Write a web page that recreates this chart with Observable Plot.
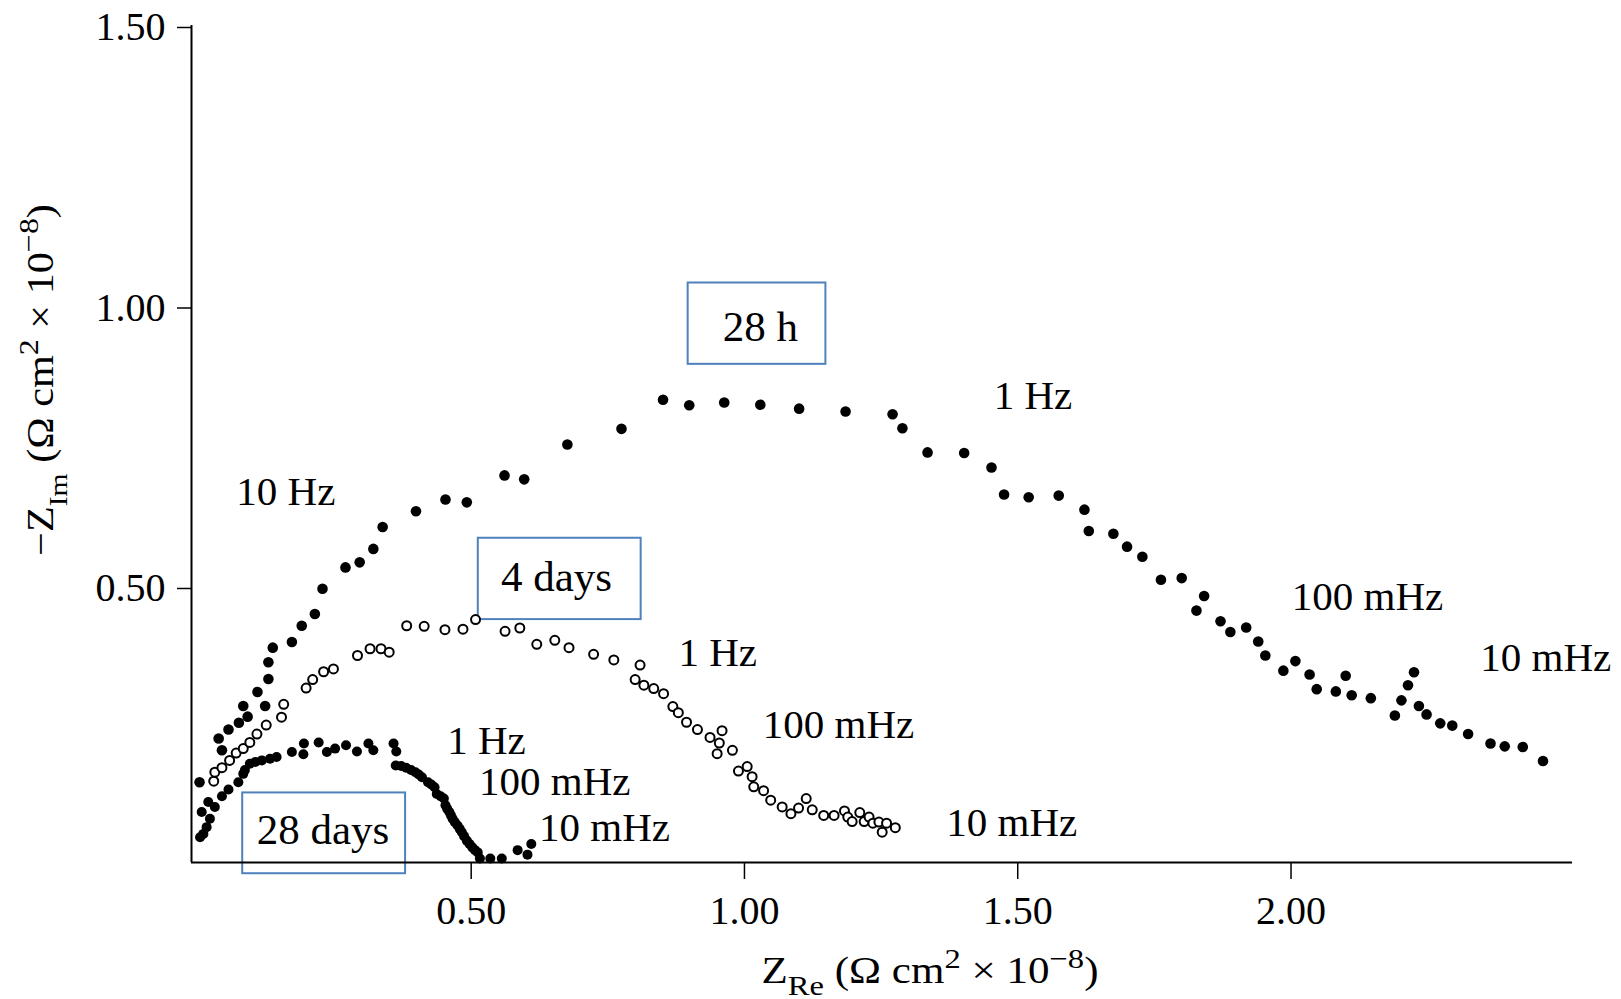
<!DOCTYPE html>
<html>
<head>
<meta charset="utf-8">
<script src="https://cdn.jsdelivr.net/npm/d3@7"></script>
<script src="https://cdn.jsdelivr.net/npm/@observablehq/plot@0.6"></script>
<style>
  html, body { margin: 0; padding: 0; background: #fff; overflow: hidden; }
</style>
</head>
<body>
<div id="chart"></div>
<script>
// ---- axis ticks ----
const xTicks = [0.5, 1.0, 1.5, 2.0];
const yTicks = [0.5, 1.0, 1.5];

// ---- series: [Z_Re, -Z_Im] (Ω cm² × 10⁻⁸) ----
const series28h = [
  [0.003,0.151],[0.044,0.208],[0.038,0.229],[0.056,0.245],[0.075,0.257],[0.091,0.268],[0.083,0.287],[0.123,0.287],
  [0.109,0.312],[0.129,0.335],[0.129,0.365],[0.137,0.391],[0.172,0.401],[0.190,0.430],[0.214,0.451],[0.228,0.496],
  [0.270,0.534],[0.296,0.543],[0.321,0.567],[0.338,0.606],[0.399,0.634],[0.453,0.655],[0.492,0.650],[0.561,0.698],
  [0.597,0.691],[0.676,0.753],[0.775,0.781],[0.851,0.833],[0.899,0.823],[0.963,0.828],[1.029,0.824],[1.100,0.817],
  [1.185,0.812],[1.271,0.807],[1.289,0.782],[1.335,0.739],[1.402,0.738],[1.452,0.712],[1.475,0.664],[1.520,0.659],
  [1.575,0.662],[1.622,0.637],[1.630,0.599],[1.675,0.594],[1.700,0.571],[1.728,0.553],[1.762,0.512],[1.800,0.515],
  [1.841,0.483],[1.827,0.457],[1.871,0.438],[1.889,0.419],[1.918,0.427],[1.940,0.402],[1.953,0.377],[1.986,0.350],
  [2.008,0.367],[2.034,0.343],[2.047,0.317],[2.082,0.313],[2.100,0.341],[2.111,0.306],[2.146,0.301],[2.190,0.270],
  [2.202,0.297],[2.214,0.324],[2.225,0.347],[2.234,0.287],[2.248,0.272],[2.273,0.256],[2.295,0.252],[2.324,0.237],
  [2.365,0.220],[2.391,0.215],[2.424,0.214],[2.461,0.189]
];
const series4d = [
  [0.029,0.153],[0.031,0.169],[0.044,0.177],[0.058,0.190],[0.070,0.203],[0.083,0.211],[0.095,0.222],[0.108,0.237],
  [0.125,0.253],[0.153,0.267],[0.157,0.290],[0.198,0.319],[0.210,0.334],[0.230,0.348],[0.248,0.353],[0.292,0.377],
  [0.315,0.389],[0.335,0.389],[0.350,0.383],[0.382,0.430],[0.414,0.429],[0.452,0.423],[0.485,0.424],[0.508,0.441],
  [0.562,0.420],[0.589,0.426],[0.620,0.397],[0.653,0.404],[0.679,0.391],[0.724,0.379],[0.761,0.369],[0.809,0.360],
  [0.800,0.334],[0.816,0.324],[0.834,0.318],[0.852,0.309],[0.869,0.286],[0.879,0.275],[0.894,0.258],[0.914,0.245],
  [0.937,0.231],[0.959,0.243],[0.954,0.221],[0.978,0.208],[0.950,0.202],[0.989,0.171],[1.005,0.179],[1.014,0.161],
  [1.017,0.143],[1.035,0.136],[1.048,0.119],[1.069,0.107],[1.085,0.095],[1.099,0.105],[1.113,0.122],[1.124,0.102],
  [1.145,0.092],[1.164,0.092],[1.183,0.100],[1.189,0.089],[1.197,0.081],[1.211,0.097],[1.219,0.081],[1.228,0.089],
  [1.235,0.078],[1.246,0.080],[1.252,0.062],[1.260,0.078],[1.276,0.070]
];
const series28d = [
  [0.004,0.053],[0.010,0.059],[0.016,0.071],[0.022,0.086],[0.007,0.098],[0.019,0.116],[0.031,0.107],[0.044,0.126],
  [0.056,0.138],[0.074,0.151],[0.083,0.166],[0.086,0.173],[0.095,0.184],[0.105,0.187],[0.117,0.190],[0.132,0.193],
  [0.144,0.196],[0.172,0.205],[0.193,0.201],[0.194,0.220],[0.221,0.222],[0.236,0.205],[0.251,0.211],[0.271,0.217],
  [0.291,0.206],[0.312,0.220],[0.321,0.208],[0.358,0.220],[0.363,0.206],[0.362,0.181],[0.372,0.180],[0.381,0.177],
  [0.390,0.173],[0.398,0.169],[0.404,0.165],[0.410,0.160],[0.421,0.151],[0.427,0.147],[0.433,0.142],[0.437,0.130],
  [0.444,0.126],[0.450,0.122],[0.453,0.110],[0.456,0.104],[0.460,0.098],[0.463,0.092],[0.466,0.086],[0.470,0.080],
  [0.475,0.074],[0.479,0.068],[0.483,0.062],[0.487,0.055],[0.492,0.047],[0.497,0.041],[0.502,0.035],[0.507,0.030],
  [0.512,0.026],[0.516,0.015],[0.535,0.015],[0.556,0.015],[0.585,0.030],[0.603,0.022],[0.610,0.041]
];

// ---- frequency annotations ----
const freqLabels = [
  {text: "10 Hz",   x: 0.161, y: 0.669},
  {text: "1 Hz",    x: 1.528, y: 0.840},
  {text: "100 mHz", x: 2.140, y: 0.482},
  {text: "10 mHz",  x: 2.466, y: 0.373},
  {text: "1 Hz",    x: 0.951, y: 0.382},
  {text: "100 mHz", x: 1.172, y: 0.254},
  {text: "10 mHz",  x: 1.489, y: 0.079},
  {text: "1 Hz",    x: 0.528, y: 0.225},
  {text: "100 mHz", x: 0.653, y: 0.152},
  {text: "10 mHz",  x: 0.744, y: 0.070}
];

// ---- boxed series labels ----
const boxLabels = [
  {text: "28 h",    x: 1.029, y: 0.962, x1: 0.897, x2: 1.149, y1: 0.896, y2: 1.041},
  {text: "4 days",  x: 0.656, y: 0.516, x1: 0.513, x2: 0.811, y1: 0.441, y2: 0.586},
  {text: "28 days", x: 0.229, y: 0.066, x1: 0.082, x2: 0.380, y1: -0.012, y2: 0.132}
];

const xDomain = [-0.0117, 2.515];
const yDomain = [0.008, 1.5];
const FONT = "'Liberation Serif', 'Times New Roman', serif";
const W = 1621, H = 999, ML = 191, MR = 49, MT = 25, MB = 137;

const chart = Plot.plot({
  width: W, height: H,
  marginLeft: ML, marginRight: MR, marginTop: MT, marginBottom: MB,
  style: {fontFamily: FONT, background: "#fff", color: "#000", overflow: "visible"},
  x: {domain: xDomain},
  y: {domain: yDomain},
  marks: [
    Plot.rect(boxLabels, {x1: "x1", x2: "x2", y1: "y1", y2: "y2", fill: "#fff", stroke: "#4F81BD", strokeWidth: 2, ariaLabel: "annotation box"}),
    Plot.ruleX([xDomain[0]], {y1: yDomain[0], y2: yDomain[1], stroke: "#000", strokeWidth: 2}),
    Plot.ruleY([yDomain[0]], {x1: xDomain[0], x2: xDomain[1], stroke: "#000", strokeWidth: 2}),
    Plot.axisY({ticks: yTicks, tickSize: 14, tickPadding: 12, tickFormat: d => d.toFixed(2), fontSize: 40, strokeWidth: 1.5, label: null, dy: 2}),
    Plot.axisX({ticks: xTicks, tickSize: 17, tickPadding: 16, tickFormat: d => d.toFixed(2), fontSize: 40, strokeWidth: 1.5, label: null}),
    Plot.dot(series28h, {x: d => d[0], y: d => d[1], r: 5.3, fill: "#000", stroke: "none"}),
    Plot.dot(series4d, {x: d => d[0], y: d => d[1], r: 4.5, fill: "#fff", stroke: "#000", strokeWidth: 2}),
    Plot.dot(series28d, {x: d => d[0], y: d => d[1], r: 5, fill: "#000", stroke: "none"}),
    Plot.text(freqLabels, {x: "x", y: "y", text: "text", fontSize: 41, fill: "#000", textAnchor: "middle"}),
    Plot.text(boxLabels, {x: "x", y: "y", text: "text", fontSize: 43, fill: "#000", textAnchor: "middle"})
  ]
});

document.getElementById("chart").appendChild(chart);

const svg = d3.select(chart);
svg.selectAll('g[aria-label="annotation box"] rect')
  .style("filter", "drop-shadow(2px 3px 2px rgba(0,0,0,0.28))");

// axis titles with sub/superscripts, stretched to the reference's width
function title(parts, cx, cy, rotate, targetLen) {
  const g = svg.append("g");
  const t = g.append("text")
    .attr("text-anchor", "middle")
    .attr("font-family", FONT).attr("font-size", 37).attr("fill", "#000");
  parts.forEach(p => {
    const s = t.append("tspan").text(p.t);
    if (p.size) s.attr("font-size", p.size);
    if (p.dy) s.attr("dy", p.dy);
  });
  const len = t.node().getComputedTextLength() || targetLen;
  const k = targetLen / len;
  g.attr("transform", `translate(${cx},${cy}) rotate(${rotate}) scale(${k},1)`);
}
title([
  {t: "Z"}, {t: "Re", size: 28, dy: 12}, {t: " (Ω cm", dy: -12},
  {t: "2", size: 28, dy: -15}, {t: " × 10", dy: 15}, {t: "−8", size: 28, dy: -15}, {t: ")", dy: 15}
], 930, 983, 0, 337);
title([
  {t: "−Z"}, {t: "Im", size: 26, dy: 14}, {t: " (Ω cm", dy: -14},
  {t: "2", size: 28, dy: -15}, {t: " × 10", dy: 15}, {t: "−8", size: 28, dy: -15}, {t: ")", dy: 15}
], 53, 380, -90, 352);
</script>
</body>
</html>
